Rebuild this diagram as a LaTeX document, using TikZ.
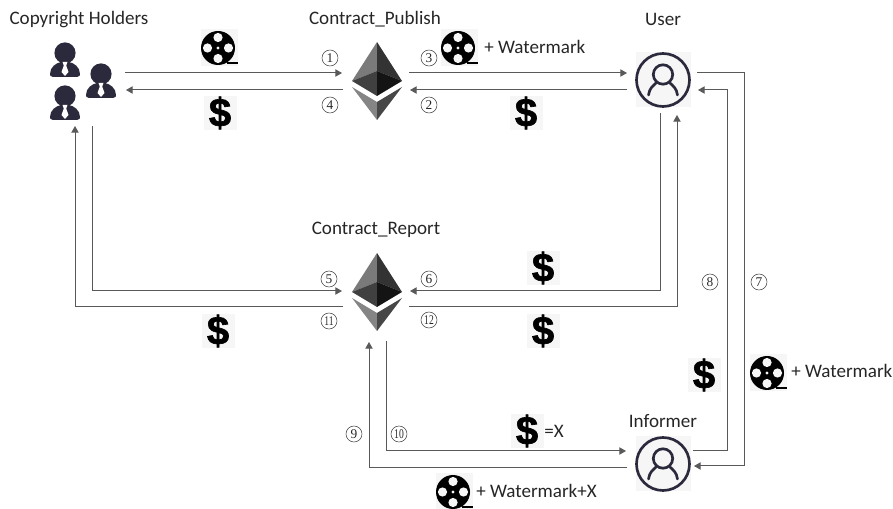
\documentclass[tikz,border=0pt]{standalone}
\usepackage{fontspec}
\setmainfont{Carlito}
\newfontfamily\numfont{Liberation Serif}
\newfontfamily\dolfont{Liberation Sans}[BoldFont={Liberation Sans Bold},BoldFeatures={FakeBold=1.6}]
\usetikzlibrary{arrows.meta}
\definecolor{flowgray}{HTML}{595959}
\definecolor{inkdark}{HTML}{2B2A3C}
\definecolor{iconbg}{HTML}{F6F6F6}
\tikzset{
  flow/.style={draw=flowgray,line width=0.75pt,-{Triangle[length=5pt,width=5.5pt]}},
  title/.style={font=\fontsize{14.3}{16}\selectfont,text=black!85,inner sep=0pt},
  stepnum/.style={draw=black!75,line width=0.4pt,shape=circle,minimum size=12pt,inner sep=0pt,
    font=\numfont\fontsize{10}{10}\selectfont,text=black!85},
  plain/.style={font=\fontsize{14.3}{16}\selectfont,text=black!85,inner sep=0pt,anchor=west},
  iconbox/.style={fill=iconbg,inner sep=0pt,minimum width=#1*0.75pt,minimum height=#1*0.75pt},
  dollar/.style={fill=iconbg,inner sep=0pt,minimum width=24.75pt,minimum height=25pt,
    font=\dolfont\bfseries\fontsize{30}{30}\selectfont,text=black},
}
\newcommand{\twodig}[1]{\scalebox{0.72}[1]{#1}}
\newcommand{\ethlogo}[3]{%
  \node[inner sep=0pt,minimum width=37.5pt,minimum height=58.5pt] (#1) at (#2,#3) {};
  \begin{scope}[shift={(#2,#3)}]
    \fill[black!52] (0,-39) -- (-25,0) -- (0,-10) -- cycle;
    \fill[black!80] (0,-39) -- (25,0) -- (0,-10) -- cycle;
    \fill[black!75] (-25,0) -- (0,-10) -- (0,15) -- cycle;
    \fill[black!92] (25,0) -- (0,-10) -- (0,15) -- cycle;
    \fill[black!48] (-25,6) -- (0,21) -- (0,39) -- cycle;
    \fill[black!72] (25,6) -- (0,21) -- (0,39) -- cycle;
  \end{scope}}
\newcommand{\userlogo}[3]{%
  \node[iconbox=55] (#1) at (#2,#3) {};
  \begin{scope}[shift={(#2,#3)},draw=inkdark,line width=2pt,line cap=round]
    \draw (0,0) circle (26.5);
    \draw (0,-5.5) circle (9.7);
    \draw (-14.5,15) .. controls (-13.5,8) and (-10,6) .. (-6.5,2.5);
    \draw (14.5,15) .. controls (13.5,8) and (10,6) .. (6.5,2.5);
  \end{scope}}
\newcommand{\holder}[3]{%
  \node[inner sep=0pt,minimum width=22.5pt,minimum height=26pt] (#1) at (#2,#3) {};
  \begin{scope}[shift={(#2,#3)}]
    \fill[inkdark] (0,-11) circle (10.6);
    \fill[inkdark] (-12,13) .. controls (-15,13) and (-15,11) .. (-15,10)
      .. controls (-15,3) and (-9,-1) .. (-4,-2) -- (4,-2)
      .. controls (9,-1) and (15,3) .. (15,10)
      .. controls (15,11) and (15,13) .. (12,13) -- cycle;
    \fill[white] (-2.5,-2) -- (2.5,-2) -- (1.2,1.5) -- (3.5,8) -- (0,12) -- (-3.5,8) -- (-1.2,1.5) -- cycle;
  \end{scope}}
\newcommand{\reel}[3]{%
  \node[iconbox=37] (#1) at (#2+1.5,#3) {};
  \begin{scope}[shift={(#2,#3)}]
    \fill[black] (0,0) circle (17);
    \fill[black] (9,14) rectangle (20,16);
    \foreach \a in {0,90,180,270}{\fill[iconbg] (\a:10.5) circle (4.6);}
    \fill[iconbg] (0,0) circle (1.6);
  \end{scope}}
\begin{document}
\begin{tikzpicture}[x=0.75pt,y=-0.75pt]
\useasboundingbox (0,0) rectangle (893,509);
% titles
\node[title] (tHolders) at (79,20) {Copyright Holders};
\node[title] (tPublish) at (375,19) {Contract\_Publish};
\node[title] (tUser) at (663,19) {User};
\node[title] (tReport) at (376,230) {Contract\_Report};
\node[title] (tInformer) at (663,421) {Informer};
% actors
\holder{h1}{65}{64}
\holder{h2}{101}{85}
\holder{h3}{65}{107}
\ethlogo{pub}{377}{81}
\ethlogo{rep}{377}{292}
\userlogo{user}{663}{80}
\userlogo{inf}{663}{464}
% ports
\coordinate (hA) at (125,73);  \coordinate (hB) at (126,90);
\coordinate (hC) at (92,126);  \coordinate (hD) at (75,126);
\coordinate (pA) at (342,73);  \coordinate (pB) at (343,90);
\coordinate (pC) at (409,73);  \coordinate (pD) at (410,90);
\coordinate (uA) at (627,73);  \coordinate (uB) at (627,90);
\coordinate (uC) at (697,73);  \coordinate (uD) at (698,90);
\coordinate (uE) at (660,113); \coordinate (uF) at (677,115);
\coordinate (rA) at (342,291); \coordinate (rB) at (343,307);
\coordinate (rC) at (410,291); \coordinate (rD) at (409,307);
\coordinate (rE) at (386,341); \coordinate (rF) at (369,342);
\coordinate (iA) at (626,451); \coordinate (iB) at (627,468);
\coordinate (iC) at (693,451); \coordinate (iD) at (694,466);
% connectors
\draw[flow] (hA) -- (pA);
\draw[flow] (pB) -- (hB);
\draw[flow] (pC) -- (uA);
\draw[flow] (uB) -- (pD);
\draw[flow] (hC) |- (rA);
\draw[flow] (rB) -| (hD);
\draw[flow] (uE) |- (rC);
\draw[flow] (rD) -| (uF);
\draw[flow] (uC) -- ++(47,0) |- (iD);
\draw[flow] (iC) -- ++(34,0) |- (uD);
\draw[flow] (rE) |- (iA);
\draw[flow] (iB) -| (rF);
% step numbers
\node[stepnum] (n1) at (330,58) {1};
\node[stepnum] (n2) at (429,105) {2};
\node[stepnum] (n3) at (429,58) {3};
\node[stepnum] (n4) at (330,105) {4};
\node[stepnum] (n5) at (329,279) {5};
\node[stepnum] (n6) at (429,279) {6};
\node[stepnum] (n7) at (759,282) {7};
\node[stepnum] (n8) at (710,282) {8};
\node[stepnum] (n9) at (354,434) {9};
\node[stepnum] (n10) at (399,434) {\twodig{10}};
\node[stepnum] (n11) at (329,321) {\twodig{11}};
\node[stepnum] (n12) at (429,320) {\twodig{12}};
% reels
\reel{r1}{218}{48}
\reel{r2}{458}{48}
\reel{r3}{453}{492}
\reel{r4}{767}{373}
% dollars
\node[dollar] (d1) at (220,113) {\$};
\node[dollar] (d2) at (526,113) {\$};
\node[dollar] (d3) at (543,268) {\$};
\node[dollar] (d4) at (543,331) {\$};
\node[dollar] (d5) at (527,431) {\$};
\node[dollar] (d6) at (704,375) {\$};
\node[dollar] (d7) at (218,331) {\$};
% captions
\node[plain] (c1) at (484,47) {+ Watermark};
\node[plain] (c2) at (791,371) {+ Watermark};
\node[plain] (c3) at (476,491) {+ Watermark+X};
\node[plain] (c4) at (544,431) {=X};
\end{tikzpicture}
\end{document}
